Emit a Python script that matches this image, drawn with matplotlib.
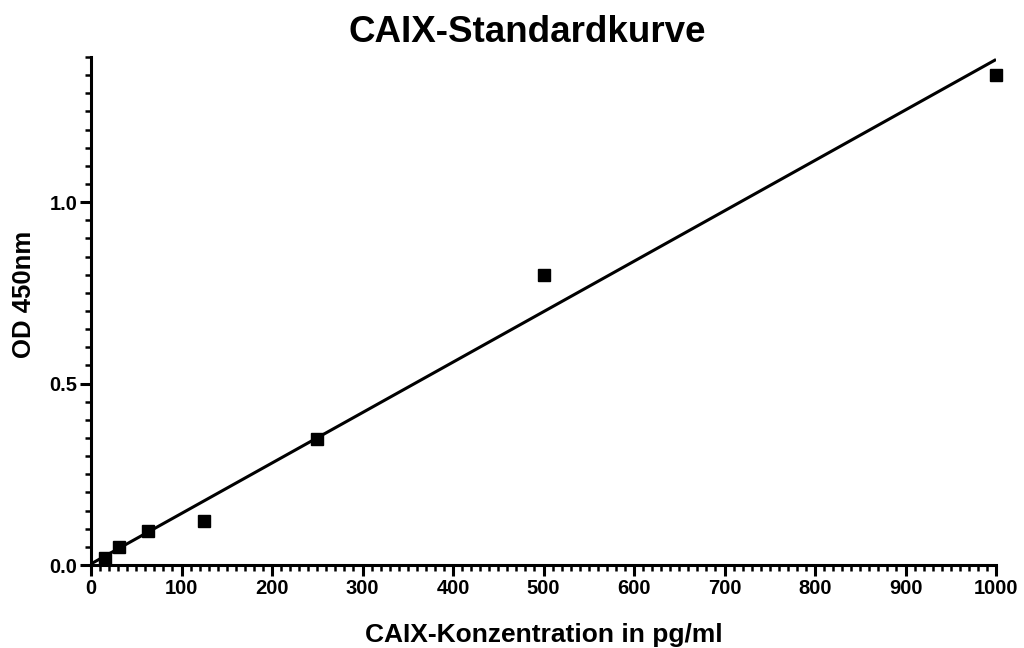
import numpy as np
import matplotlib
matplotlib.use("Agg")
import matplotlib.pyplot as plt
from matplotlib.ticker import MultipleLocator, FormatStrFormatter

plt.rcParams['font.family'] = ['Liberation Sans', 'DejaVu Sans']
plt.rcParams['font.weight'] = 'bold'

# Standard concentrations (pg/ml) and measured optical density at 450 nm
concentration = [15.625, 31.25, 62.5, 125, 250, 500, 1000]
od450 = [0.019, 0.050, 0.094, 0.121, 0.347, 0.800, 1.350]

title = "CAIX-Standardkurve"
xlabel = "CAIX-Konzentration in pg/ml"
ylabel = "OD 450nm"

fig = plt.figure(figsize=(10.24, 6.48), dpi=100)
ax = fig.add_axes([0.0889, 0.128, 0.8838, 0.784])

# Linear regression of the standards
slope, intercept = np.polyfit(concentration, od450, 1)
xfit = np.array([0, 1000])
ax.plot(xfit, slope * xfit + intercept, color='black', lw=2.2, solid_capstyle='butt', zorder=2)

ax.plot(concentration, od450, linestyle='none', marker='s', markersize=9.2,
        color='black', zorder=3, clip_on=False)

ax.set_xlim(0, 1000)
ax.set_ylim(0, 1.4)
ax.xaxis.set_major_locator(MultipleLocator(100))
ax.xaxis.set_minor_locator(MultipleLocator(10))
ax.yaxis.set_major_locator(MultipleLocator(0.5))
ax.yaxis.set_minor_locator(MultipleLocator(0.05))
ax.yaxis.set_major_formatter(FormatStrFormatter('%.1f'))

for side in ('top', 'right'):
    ax.spines[side].set_visible(False)
for side in ('left', 'bottom'):
    ax.spines[side].set_linewidth(2.2)

ax.tick_params(which='major', length=8, width=2.2, direction='out', labelsize=14.5, pad=2)
ax.tick_params(which='minor', length=4.5, width=1.8, direction='out')
for lab in ax.get_xticklabels() + ax.get_yticklabels():
    lab.set_fontweight('bold')

fig.text(0.515, 1 - 42 / 648, title, fontsize=26.5, fontweight='bold',
         ha='center', va='baseline')
fig.text(0.5307, 1 - 642 / 648, xlabel, fontsize=19, fontweight='bold',
         ha='center', va='baseline')
fig.text(24 / 1024, 1 - 294 / 648, ylabel, fontsize=18.5, fontweight='bold',
         ha='center', va='center', rotation=90)

fig.savefig("out.png", dpi=100, facecolor='white')
